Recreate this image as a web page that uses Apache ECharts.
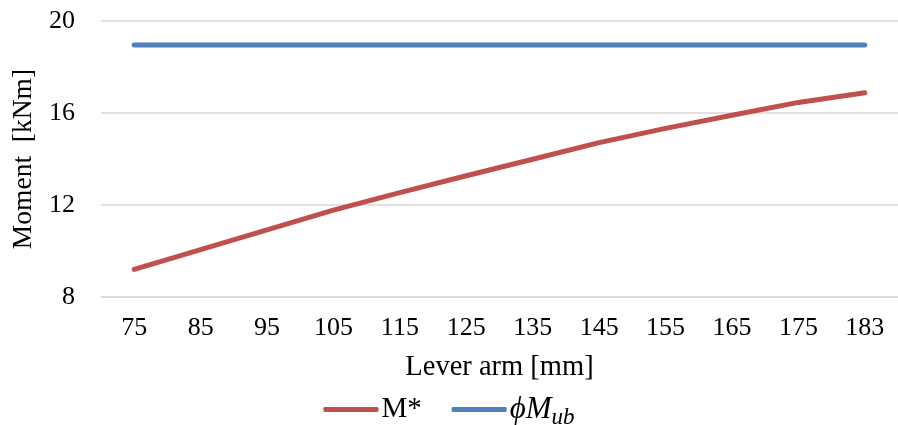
<!DOCTYPE html>
<html>
<head>
<meta charset="utf-8">
<script src="https://cdn.jsdelivr.net/npm/echarts@6/dist/echarts.min.js"></script>
<style>
  html, body { margin: 0; padding: 0; background: #fff; }
  #chart { width: 898px; height: 425px; }
</style>
</head>
<body>
<div id="chart"></div>
<script>
// Lever arm values along the x axis [mm]
const leverArm = ['75', '85', '95', '105', '115', '125', '135', '145', '155', '165', '175', '183'];
// Design moment M* [kNm]
const mStar = [9.20, 10.06, 10.92, 11.78, 12.54, 13.27, 13.99, 14.71, 15.33, 15.90, 16.46, 16.88];
// Bending capacity phi*Mub [kNm]
const phiMub = [18.96, 18.96, 18.96, 18.96, 18.96, 18.96, 18.96, 18.96, 18.96, 18.96, 18.96, 18.96];
// y axis range and step
const yMin = 8, yMax = 20, yStep = 4;

const serif = '"Liberation Serif", "Times New Roman", serif';
const red = '#C0504D';
const blue = '#4F81BD';
const grid = '#D9D9D9';

const chart = echarts.init(document.getElementById('chart'), null, { renderer: 'canvas' });
chart.setOption({
  animation: false,
  backgroundColor: '#fff',
  grid: { left: 101, right: 0, top: 21, bottom: 128 },
  xAxis: {
    type: 'category',
    data: leverArm,
    boundaryGap: true,
    name: 'Lever arm [mm]',
    nameLocation: 'middle',
    nameGap: 56,
    nameTextStyle: { fontFamily: serif, fontSize: 28.5, color: '#000' },
    axisLine: { show: true, lineStyle: { color: grid, width: 1.5 } },
    axisTick: { show: false },
    axisLabel: { fontFamily: serif, fontSize: 26, color: '#000', margin: 18 }
  },
  yAxis: {
    type: 'value',
    min: yMin,
    max: yMax,
    interval: yStep,
    name: 'Moment  [kNm]',
    nameLocation: 'middle',
    nameGap: 62,
    nameTextStyle: { fontFamily: serif, fontSize: 27.5, color: '#000' },
    axisLine: { show: false },
    axisTick: { show: false },
    axisLabel: { fontFamily: serif, fontSize: 26, color: '#000', margin: 26 },
    splitLine: { lineStyle: { color: grid, width: 1.5 } }
  },
  legend: {
    bottom: -9,
    left: 'center',
    itemWidth: 55,
    itemHeight: 5,
    itemGap: 30,
    icon: 'roundRect',
    textStyle: { fontFamily: serif, fontSize: 29, color: '#000', padding: [0, 0, 0, -2] },
    data: [
      { name: 'M*' },
      {
        name: 'phiMub',
        textStyle: {
          rich: {
            m: { fontFamily: serif, fontStyle: 'italic', fontSize: 31, color: '#000' },
            s: { fontFamily: serif, fontStyle: 'italic', fontSize: 23, color: '#000', padding: [16, 0, 0, 0] }
          }
        }
      }
    ],
    formatter: function (name) {
      if (name === 'phiMub') return '{m|\u03D5M}{s|ub}';
      return name;
    }
  },
  series: [
    {
      name: 'M*',
      type: 'line',
      data: mStar,
      symbol: 'none',
      color: red,
      lineStyle: { color: red, width: 5, cap: 'round', join: 'round' }
    },
    {
      name: 'phiMub',
      type: 'line',
      data: phiMub,
      symbol: 'none',
      color: blue,
      lineStyle: { color: blue, width: 5, cap: 'round', join: 'round' }
    }
  ]
});
</script>
</body>
</html>
